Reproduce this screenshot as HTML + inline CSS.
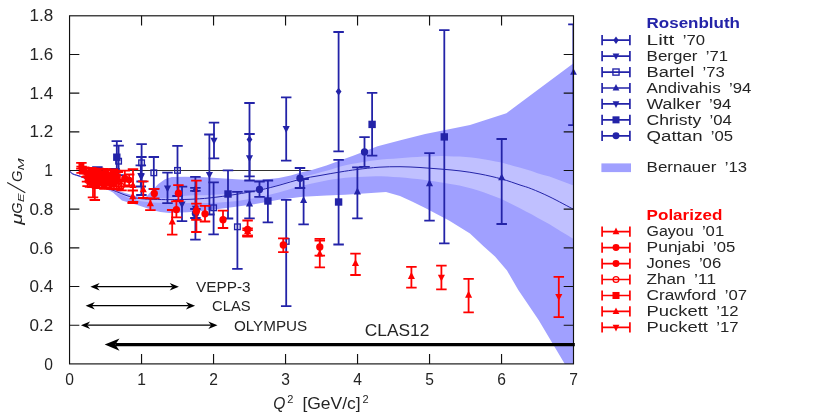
<!DOCTYPE html>
<html><head><meta charset="utf-8"><title>Proton form factor ratio</title>
<style>
html,body{margin:0;padding:0;background:#fff;}
body{width:831px;height:420px;overflow:hidden;font-family:"Liberation Sans",sans-serif;}
svg{display:block;will-change:transform;}
svg text{font-family:"Liberation Sans",sans-serif;}
</style></head><body>
<svg width="831" height="420" viewBox="0 0 831 420" font-family="Liberation Sans, sans-serif">
<defs><clipPath id="cp"><rect x="69.55" y="15.8" width="504.45" height="348.1"/></clipPath></defs>
<line x1="69.55" y1="170.51" x2="573.5" y2="170.51" stroke="#333" stroke-width="1"/>
<g clip-path="url(#cp)">
<polygon points="69.5,170.2 71.5,172.6 74.5,174 79,175.2 85,177.6 95,182 105,186.2 113,188.8 125,193 135,195.8 143,197.4 146.4,196.5 152,190.5 158.3,184 165,179.2 171.7,177.1 185,176.7 200.8,176.9 232,179 247.7,180 265,179.5 278.8,178 290.7,175.5 302.6,172.1 311,170.3 326.4,165.4 340,160.5 353.8,155.5 377.6,146.3 401.4,140 425.2,134 449,129.3 470,125 506.4,113.3 573.5,63.3 573.5,364 564.8,364 538.6,320 518.3,290 507,270.5 495,256.5 483.8,246.5 470,233.5 449,220.5 425.2,208 412,201.5 400,196 386,191.9 360,193.8 345,194.8 326.4,195.4 302.6,196.7 278.8,199.7 254,204.3 232,207.3 200.8,211.3 187.4,212.2 169.5,213 160.4,212 153.9,210.4 146.4,208 135.7,204.4 128.8,202.6 121.9,200.4 113,192.6 105,188.4 95,183.7 85,179.1 79,176.7 74.5,175.3 71.5,173.9 69.5,171" fill="#a0a0ff"/>
<polygon points="69.5,170.3 75.5,174.67 81.5,176.66 87.5,179.17 93.5,181.85 99.5,184.48 105.5,187.09 111.5,189.4 117.5,191.72 123.5,194.1 129.5,196.06 135.5,197.53 141.5,198.43 147.5,198.78 153.5,198.87 159.5,198.6 165.5,198.31 171.5,197.86 177.5,196.88 183.5,195.91 189.5,195.44 195.5,195.37 201.5,195.27 207.5,195.17 213.5,194.84 219.5,194.45 225.5,194.09 231.5,193.73 237.5,193.26 243.5,192.41 249.5,191.41 255.5,190.4 261.5,189.29 267.5,187.86 273.5,186.4 279.5,184.61 285.5,182.63 291.5,180.62 297.5,178.62 303.5,176.77 309.5,175.2 315.5,173.64 321.5,172.08 327.5,170.49 333.5,168.65 339.5,166.81 345.5,165.17 351.5,164.01 357.5,162.88 363.5,161.98 369.5,161.08 375.5,160.18 381.5,159.48 387.5,159.07 393.5,158.65 399.5,158.23 405.5,157.8 411.5,157.37 417.5,156.93 423.5,156.62 429.5,156.39 435.5,156.17 441.5,156.04 447.5,156.21 453.5,156.38 459.5,156.55 465.5,157.05 471.5,157.62 477.5,158.28 483.5,159.21 489.5,160.33 495.5,161.45 501.5,162.57 507.5,164.23 513.5,165.91 519.5,167.59 525.5,169.3 531.5,171.02 537.5,173.14 543.5,174.88 549.5,176.61 555.5,178.8 561.5,181.04 567.5,183.27 573.5,185.5 573.5,239.1 567.5,235.36 561.5,231.63 555.5,227.89 549.5,224.2 543.5,220.96 537.5,217.72 531.5,214.2 525.5,211.14 519.5,208.1 513.5,205.09 507.5,202.08 501.5,199.1 495.5,196.85 489.5,194.6 483.5,192.35 477.5,190.29 471.5,188.5 465.5,186.99 459.5,185.61 453.5,184.56 447.5,183.51 441.5,182.46 435.5,181.56 429.5,180.7 423.5,179.85 417.5,179.08 411.5,178.44 405.5,177.79 399.5,177.18 393.5,176.89 387.5,176.61 381.5,176.33 375.5,176.33 369.5,176.53 363.5,176.73 357.5,176.93 351.5,177.37 345.5,177.83 339.5,178.51 333.5,179.37 327.5,180.23 321.5,181.41 315.5,182.73 309.5,184.07 303.5,185.4 297.5,187.02 291.5,188.78 285.5,190.54 279.5,192.28 273.5,193.82 267.5,195.29 261.5,196.76 255.5,197.9 249.5,198.95 243.5,199.99 237.5,200.9 231.5,201.47 225.5,201.92 219.5,202.38 213.5,202.82 207.5,203.07 201.5,203.08 195.5,203.09 189.5,203.08 183.5,202.98 177.5,203.03 171.5,203.09 165.5,202.93 159.5,202.71 153.5,202.47 147.5,201.93 141.5,201.22 135.5,199.96 129.5,198.13 123.5,195.83 117.5,193.16 111.5,190.55 105.5,187.96 99.5,185.08 93.5,182.4 87.5,179.68 81.5,177.14 75.5,175.11 69.5,170.7" fill="#c0c0ff"/>
<path d="M69.5,170.5C69.83,170.95 70.67,172.52 71.5,173.2C72.33,173.88 73.25,174.15 74.5,174.6C75.75,175.05 77.25,175.28 79,175.9C80.75,176.52 82.33,177.15 85,178.3C87.67,179.45 91.67,181.32 95,182.8C98.33,184.28 101.38,185.72 105,187.2C108.62,188.68 113.37,190.4 116.7,191.7C120.03,193 122.23,194.03 125,195C127.77,195.97 130.47,196.87 133.3,197.5C136.13,198.13 138.57,198.48 142,198.8C145.43,199.12 149.23,199.27 153.9,199.4C158.57,199.53 163.98,199.62 170,199.6C176.02,199.58 183.33,199.58 190,199.3C196.67,199.02 202.5,198.7 210,197.9C217.5,197.1 226.67,195.82 235,194.5C243.33,193.18 252.5,191.58 260,190C267.5,188.42 273.17,186.83 280,185C286.83,183.17 294.33,180.58 301,179C307.67,177.42 313.5,176.67 320,175.5C326.5,174.33 333.83,173 340,172C346.17,171 350.5,170.3 357,169.5C363.5,168.7 371.83,167.67 379,167.2C386.17,166.73 393.17,166.65 400,166.7C406.83,166.75 413.33,167.12 420,167.5C426.67,167.88 433.33,168.43 440,169C446.67,169.57 453.33,170.07 460,170.9C466.67,171.73 473.05,172.65 480,174C486.95,175.35 495.03,177.17 501.7,179C508.37,180.83 515.05,183.37 520,185C524.95,186.63 526.4,186.8 531.4,188.8C536.4,190.8 542.98,193.58 550,197C557.02,200.42 569.58,207.25 573.5,209.3" fill="none" stroke="#2323a8" stroke-width="1"/>
</g>
<g clip-path="url(#cp)">
<path d="M249.5,103V176.4M244.25,103H254.75M244.25,176.4H254.75" stroke="#2323a8" stroke-width="1.8" fill="none"/><polygon points="249.5,135.6 252.4,139.5 249.5,143.4 246.6,139.5" fill="#2323a8"/>
<path d="M338.6,32V151.4M333.35,32H343.85M333.35,151.4H343.85" stroke="#2323a8" stroke-width="1.8" fill="none"/><polygon points="338.6,87.7 341.5,91.6 338.6,95.5 335.7,91.6" fill="#2323a8"/>
<path d="M214,122.6V158.3M208.75,122.6H219.25M208.75,158.3H219.25" stroke="#2323a8" stroke-width="1.8" fill="none"/><polygon points="214,144.7 210.45,137.8 217.55,137.8" fill="#2323a8"/>
<path d="M249.5,134V180.5M244.25,134H254.75M244.25,180.5H254.75" stroke="#2323a8" stroke-width="1.8" fill="none"/><polygon points="249.5,162.1 245.95,155.2 253.05,155.2" fill="#2323a8"/>
<path d="M286.2,97.4V160.7M280.95,97.4H291.45M280.95,160.7H291.45" stroke="#2323a8" stroke-width="1.8" fill="none"/><polygon points="286.2,133 282.65,126.1 289.75,126.1" fill="#2323a8"/>
<path d="M140.8,165.4V186.5M135.55,165.4H146.05M135.55,186.5H146.05" stroke="#2323a8" stroke-width="1.8" fill="none"/><polygon points="140.8,180 137.25,173.1 144.35,173.1" fill="#2323a8"/>
<path d="M167.5,172.6V203.2M162.25,172.6H172.75M162.25,203.2H172.75" stroke="#2323a8" stroke-width="1.8" fill="none"/><polygon points="167.5,192.4 163.95,185.5 171.05,185.5" fill="#2323a8"/>
<path d="M182,186.6V221.2M176.75,186.6H187.25M176.75,221.2H187.25" stroke="#2323a8" stroke-width="1.8" fill="none"/><polygon points="182,208.4 178.45,201.5 185.55,201.5" fill="#2323a8"/>
<path d="M209.4,134.5V214.5M204.15,134.5H214.65M204.15,214.5H214.65" stroke="#2323a8" stroke-width="1.8" fill="none"/><polygon points="209.4,178.8 205.85,171.9 212.95,171.9" fill="#2323a8"/>
<path d="M195.4,176.8V239.6M190.15,176.8H200.65M190.15,239.6H200.65" stroke="#2323a8" stroke-width="1.8" fill="none"/><polygon points="195.4,212.7 191.85,205.8 198.95,205.8" fill="#2323a8"/>
<path d="M118.6,145.6V175.2M113.35,145.6H123.85M113.35,175.2H123.85" stroke="#2323a8" stroke-width="1.8" fill="none"/><rect x="115.8" y="158.4" width="5.6" height="5.6" fill="none" stroke="#2323a8" stroke-width="1.35"/>
<path d="M141.6,144.2V181.5M136.35,144.2H146.85M136.35,181.5H146.85" stroke="#2323a8" stroke-width="1.8" fill="none"/><rect x="138.8" y="160" width="5.6" height="5.6" fill="none" stroke="#2323a8" stroke-width="1.35"/>
<path d="M153.8,157V189M148.55,157H159.05M148.55,189H159.05" stroke="#2323a8" stroke-width="1.8" fill="none"/><rect x="151" y="170" width="5.6" height="5.6" fill="none" stroke="#2323a8" stroke-width="1.35"/>
<path d="M141.4,157V195M136.15,157H146.65M136.15,195H146.65" stroke="#2323a8" stroke-width="1.8" fill="none"/><polygon points="141.4,180.4 137.85,173.5 144.95,173.5" fill="#2323a8"/>
<path d="M177.5,145.8V196M172.25,145.8H182.75M172.25,196H182.75" stroke="#2323a8" stroke-width="1.8" fill="none"/><rect x="174.7" y="167.6" width="5.6" height="5.6" fill="none" stroke="#2323a8" stroke-width="1.35"/>
<path d="M213.6,182.4V234.4M208.35,182.4H218.85M208.35,234.4H218.85" stroke="#2323a8" stroke-width="1.8" fill="none"/><rect x="210.8" y="205" width="5.6" height="5.6" fill="none" stroke="#2323a8" stroke-width="1.35"/>
<path d="M237.4,191.8V268.9M232.15,191.8H242.65M232.15,268.9H242.65" stroke="#2323a8" stroke-width="1.8" fill="none"/><rect x="234.6" y="224" width="5.6" height="5.6" fill="none" stroke="#2323a8" stroke-width="1.35"/>
<path d="M286.2,199.8V306.2M280.95,199.8H291.45M280.95,306.2H291.45" stroke="#2323a8" stroke-width="1.8" fill="none"/><rect x="283.4" y="238.6" width="5.6" height="5.6" fill="none" stroke="#2323a8" stroke-width="1.35"/>
<path d="M195.4,187.8V190.8M190.15,187.8H200.65M190.15,190.8H200.65" stroke="#2323a8" stroke-width="1.8" fill="none"/><polygon points="195.4,185 191.85,191.9 198.95,191.9" fill="#2323a8"/>
<path d="M249.5,191.4V218.4M244.25,191.4H254.75M244.25,218.4H254.75" stroke="#2323a8" stroke-width="1.8" fill="none"/><polygon points="249.5,199.6 245.95,206.5 253.05,206.5" fill="#2323a8"/>
<path d="M303.6,179V224.3M298.35,179H308.85M298.35,224.3H308.85" stroke="#2323a8" stroke-width="1.8" fill="none"/><polygon points="303.6,196.2 300.05,203.1 307.15,203.1" fill="#2323a8"/>
<path d="M357.4,167.4V218.3M352.15,167.4H362.65M352.15,218.3H362.65" stroke="#2323a8" stroke-width="1.8" fill="none"/><polygon points="357.4,187.6 353.85,194.5 360.95,194.5" fill="#2323a8"/>
<path d="M429.5,153.1V220.7M424.25,153.1H434.75M424.25,220.7H434.75" stroke="#2323a8" stroke-width="1.8" fill="none"/><polygon points="429.5,179.4 425.95,186.3 433.05,186.3" fill="#2323a8"/>
<path d="M501.7,139V224M496.45,139H506.95M496.45,224H506.95" stroke="#2323a8" stroke-width="1.8" fill="none"/><polygon points="501.7,173.4 498.15,180.3 505.25,180.3" fill="#2323a8"/>
<path d="M573.4,24.3V125.2M568.15,24.3H578.65M568.15,125.2H578.65" stroke="#2323a8" stroke-width="1.8" fill="none"/>
<path d="M116.8,141.2V171.5M111.55,141.2H122.05M111.55,171.5H122.05" stroke="#2323a8" stroke-width="1.8" fill="none"/><rect x="113.1" y="153.5" width="7.4" height="7.4" fill="#2323a8"/>
<path d="M228,170.4V218.5M222.75,170.4H233.25M222.75,218.5H233.25" stroke="#2323a8" stroke-width="1.8" fill="none"/><rect x="224.3" y="190.3" width="7.4" height="7.4" fill="#2323a8"/>
<path d="M267.9,180.5V222.4M262.65,180.5H273.15M262.65,222.4H273.15" stroke="#2323a8" stroke-width="1.8" fill="none"/><rect x="264.2" y="197.3" width="7.4" height="7.4" fill="#2323a8"/>
<path d="M338.6,159.8V244.5M333.35,159.8H343.85M333.35,244.5H343.85" stroke="#2323a8" stroke-width="1.8" fill="none"/><rect x="334.9" y="198.3" width="7.4" height="7.4" fill="#2323a8"/>
<path d="M372.1,92.9V155.6M366.85,92.9H377.35M366.85,155.6H377.35" stroke="#2323a8" stroke-width="1.8" fill="none"/><rect x="368.4" y="120.7" width="7.4" height="7.4" fill="#2323a8"/>
<path d="M444.3,30.2V243.4M439.05,30.2H449.55M439.05,243.4H449.55" stroke="#2323a8" stroke-width="1.8" fill="none"/><rect x="440.6" y="133.2" width="7.4" height="7.4" fill="#2323a8"/>
<path d="M259.5,181.5V196.8M254.25,181.5H264.75M254.25,196.8H264.75" stroke="#2323a8" stroke-width="1.8" fill="none"/><circle cx="259.5" cy="189.4" r="3.65" fill="#2323a8"/>
<path d="M300,168V188M294.75,168H305.25M294.75,188H305.25" stroke="#2323a8" stroke-width="1.8" fill="none"/><circle cx="300" cy="178.2" r="3.65" fill="#2323a8"/>
<path d="M364.5,137.1V166.8M359.25,137.1H369.75M359.25,166.8H369.75" stroke="#2323a8" stroke-width="1.8" fill="none"/><circle cx="364.5" cy="151.9" r="3.65" fill="#2323a8"/>
<path d="M195.4,209V218M190.15,209H200.65M190.15,218H200.65" stroke="#2323a8" stroke-width="1.8" fill="none"/><circle cx="195.4" cy="213.5" r="3.65" fill="#2323a8"/>
<path d="M97.4,167.2V176M92.15,167.2H102.65M92.15,176H102.65" stroke="#2323a8" stroke-width="1.8" fill="none"/><polygon points="97.4,171.92 97.05,171.23 97.76,171.23" fill="#2323a8"/>
<path d="M114.5,169V175.6M109.25,169H119.75M109.25,175.6H119.75" stroke="#2323a8" stroke-width="1.8" fill="none"/><polygon points="114.5,172.72 114.14,172.03 114.86,172.03" fill="#2323a8"/>
<path d="M81.4,162.8V168.6M76.15,162.8H86.65M76.15,168.6H86.65" stroke="#ff0000" stroke-width="1.8" fill="none"/><rect x="78.44" y="162.64" width="5.92" height="5.92" fill="#ff0000"/>
<path d="M81.6,166.6V172.9M76.35,166.6H86.85M76.35,172.9H86.85" stroke="#ff0000" stroke-width="1.8" fill="none"/><rect x="78.64" y="166.64" width="5.92" height="5.92" fill="#ff0000"/>
<path d="M84.2,167.4V173.6M78.95,167.4H89.45M78.95,173.6H89.45" stroke="#ff0000" stroke-width="1.8" fill="none"/><rect x="81.24" y="167.44" width="5.92" height="5.92" fill="#ff0000"/>
<path d="M86.5,168.09V176.89M81.25,168.09H91.75M81.25,176.89H91.75" stroke="#ff0000" stroke-width="1.8" fill="none"/><rect x="83.54" y="169.53" width="5.92" height="5.92" fill="#ff0000"/>
<path d="M87.6,176.49V186.09M82.35,176.49H92.85M82.35,186.09H92.85" stroke="#ff0000" stroke-width="1.8" fill="none"/><circle cx="87.6" cy="181.29" r="2.08" fill="none" stroke="#ff0000" stroke-width="1.35"/>
<path d="M87,173.27V181.67M81.75,173.27H92.25M81.75,181.67H92.25" stroke="#ff0000" stroke-width="1.8" fill="none"/><circle cx="87" cy="177.47" r="2.92" fill="#ff0000"/>
<path d="M88.9,167.86V176.66M83.65,167.86H94.15M83.65,176.66H94.15" stroke="#ff0000" stroke-width="1.8" fill="none"/><circle cx="88.9" cy="172.26" r="2.08" fill="none" stroke="#ff0000" stroke-width="1.35"/>
<path d="M90,177.35V186.95M84.75,177.35H95.25M84.75,186.95H95.25" stroke="#ff0000" stroke-width="1.8" fill="none"/><rect x="87.04" y="179.19" width="5.92" height="5.92" fill="#ff0000"/>
<path d="M89.4,173.03V181.43M84.15,173.03H94.65M84.15,181.43H94.65" stroke="#ff0000" stroke-width="1.8" fill="none"/><circle cx="89.4" cy="177.23" r="2.08" fill="none" stroke="#ff0000" stroke-width="1.35"/>
<path d="M91.3,168V176.8M86.05,168H96.55M86.05,176.8H96.55" stroke="#ff0000" stroke-width="1.8" fill="none"/><rect x="88.34" y="169.44" width="5.92" height="5.92" fill="#ff0000"/>
<path d="M92.4,177.54V187.14M87.15,177.54H97.65M87.15,187.14H97.65" stroke="#ff0000" stroke-width="1.8" fill="none"/><circle cx="92.4" cy="182.34" r="2.92" fill="#ff0000"/>
<path d="M91.8,172.72V181.12M86.55,172.72H97.05M86.55,181.12H97.05" stroke="#ff0000" stroke-width="1.8" fill="none"/><rect x="88.84" y="173.96" width="5.92" height="5.92" fill="#ff0000"/>
<path d="M93.7,168.77V177.57M88.45,168.77H98.95M88.45,177.57H98.95" stroke="#ff0000" stroke-width="1.8" fill="none"/><circle cx="93.7" cy="173.17" r="2.92" fill="#ff0000"/>
<path d="M94.8,177.08V186.68M89.55,177.08H100.05M89.55,186.68H100.05" stroke="#ff0000" stroke-width="1.8" fill="none"/><circle cx="94.8" cy="181.88" r="2.08" fill="none" stroke="#ff0000" stroke-width="1.35"/>
<path d="M94.2,173.02V181.42M88.95,173.02H99.45M88.95,181.42H99.45" stroke="#ff0000" stroke-width="1.8" fill="none"/><rect x="91.24" y="174.26" width="5.92" height="5.92" fill="#ff0000"/>
<path d="M96.1,168.93V177.73M90.85,168.93H101.35M90.85,177.73H101.35" stroke="#ff0000" stroke-width="1.8" fill="none"/><circle cx="96.1" cy="173.33" r="2.08" fill="none" stroke="#ff0000" stroke-width="1.35"/>
<path d="M97.2,178.53V188.13M91.95,178.53H102.45M91.95,188.13H102.45" stroke="#ff0000" stroke-width="1.8" fill="none"/><rect x="94.24" y="180.37" width="5.92" height="5.92" fill="#ff0000"/>
<path d="M96.6,173.29V181.69M91.35,173.29H101.85M91.35,181.69H101.85" stroke="#ff0000" stroke-width="1.8" fill="none"/><circle cx="96.6" cy="177.49" r="2.08" fill="none" stroke="#ff0000" stroke-width="1.35"/>
<path d="M98.5,168.77V177.57M93.25,168.77H103.75M93.25,177.57H103.75" stroke="#ff0000" stroke-width="1.8" fill="none"/><rect x="95.54" y="170.21" width="5.92" height="5.92" fill="#ff0000"/>
<path d="M99.6,178.45V188.05M94.35,178.45H104.85M94.35,188.05H104.85" stroke="#ff0000" stroke-width="1.8" fill="none"/><rect x="96.64" y="180.29" width="5.92" height="5.92" fill="#ff0000"/>
<path d="M99,174.82V183.22M93.75,174.82H104.25M93.75,183.22H104.25" stroke="#ff0000" stroke-width="1.8" fill="none"/><rect x="96.04" y="176.06" width="5.92" height="5.92" fill="#ff0000"/>
<path d="M100.9,169.51V178.31M95.65,169.51H106.15M95.65,178.31H106.15" stroke="#ff0000" stroke-width="1.8" fill="none"/><rect x="97.94" y="170.95" width="5.92" height="5.92" fill="#ff0000"/>
<path d="M102,178.32V187.92M96.75,178.32H107.25M96.75,187.92H107.25" stroke="#ff0000" stroke-width="1.8" fill="none"/><circle cx="102" cy="183.12" r="2.08" fill="none" stroke="#ff0000" stroke-width="1.35"/>
<path d="M101.4,175.08V183.48M96.15,175.08H106.65M96.15,183.48H106.65" stroke="#ff0000" stroke-width="1.8" fill="none"/><circle cx="101.4" cy="179.28" r="2.92" fill="#ff0000"/>
<path d="M103.3,168.83V177.63M98.05,168.83H108.55M98.05,177.63H108.55" stroke="#ff0000" stroke-width="1.8" fill="none"/><circle cx="103.3" cy="173.23" r="2.08" fill="none" stroke="#ff0000" stroke-width="1.35"/>
<path d="M104.4,179.3V188.9M99.15,179.3H109.65M99.15,188.9H109.65" stroke="#ff0000" stroke-width="1.8" fill="none"/><rect x="101.44" y="181.14" width="5.92" height="5.92" fill="#ff0000"/>
<path d="M103.8,174.2V182.6M98.55,174.2H109.05M98.55,182.6H109.05" stroke="#ff0000" stroke-width="1.8" fill="none"/><circle cx="103.8" cy="178.4" r="2.08" fill="none" stroke="#ff0000" stroke-width="1.35"/>
<path d="M105.7,169.15V177.95M100.45,169.15H110.95M100.45,177.95H110.95" stroke="#ff0000" stroke-width="1.8" fill="none"/><rect x="102.74" y="170.59" width="5.92" height="5.92" fill="#ff0000"/>
<path d="M106.8,178.36V187.96M101.55,178.36H112.05M101.55,187.96H112.05" stroke="#ff0000" stroke-width="1.8" fill="none"/><circle cx="106.8" cy="183.16" r="2.92" fill="#ff0000"/>
<path d="M106.2,174.45V182.85M100.95,174.45H111.45M100.95,182.85H111.45" stroke="#ff0000" stroke-width="1.8" fill="none"/><rect x="103.24" y="175.69" width="5.92" height="5.92" fill="#ff0000"/>
<path d="M108.1,170.39V179.19M102.85,170.39H113.35M102.85,179.19H113.35" stroke="#ff0000" stroke-width="1.8" fill="none"/><circle cx="108.1" cy="174.79" r="2.92" fill="#ff0000"/>
<path d="M109.2,178.7V188.3M103.95,178.7H114.45M103.95,188.3H114.45" stroke="#ff0000" stroke-width="1.8" fill="none"/><circle cx="109.2" cy="183.5" r="2.08" fill="none" stroke="#ff0000" stroke-width="1.35"/>
<path d="M108.6,175.1V183.5M103.35,175.1H113.85M103.35,183.5H113.85" stroke="#ff0000" stroke-width="1.8" fill="none"/><rect x="105.64" y="176.34" width="5.92" height="5.92" fill="#ff0000"/>
<path d="M110.5,170.28V179.08M105.25,170.28H115.75M105.25,179.08H115.75" stroke="#ff0000" stroke-width="1.8" fill="none"/><circle cx="110.5" cy="174.68" r="2.08" fill="none" stroke="#ff0000" stroke-width="1.35"/>
<path d="M111.6,179.25V188.85M106.35,179.25H116.85M106.35,188.85H116.85" stroke="#ff0000" stroke-width="1.8" fill="none"/><rect x="108.64" y="181.09" width="5.92" height="5.92" fill="#ff0000"/>
<path d="M111,175.26V183.66M105.75,175.26H116.25M105.75,183.66H116.25" stroke="#ff0000" stroke-width="1.8" fill="none"/><circle cx="111" cy="179.46" r="2.08" fill="none" stroke="#ff0000" stroke-width="1.35"/>
<path d="M112.9,169.52V178.32M107.65,169.52H118.15M107.65,178.32H118.15" stroke="#ff0000" stroke-width="1.8" fill="none"/><rect x="109.94" y="170.96" width="5.92" height="5.92" fill="#ff0000"/>
<path d="M114,178.99V188.59M108.75,178.99H119.25M108.75,188.59H119.25" stroke="#ff0000" stroke-width="1.8" fill="none"/><rect x="111.04" y="180.83" width="5.92" height="5.92" fill="#ff0000"/>
<path d="M113.4,174.93V183.33M108.15,174.93H118.65M108.15,183.33H118.65" stroke="#ff0000" stroke-width="1.8" fill="none"/><rect x="110.44" y="176.17" width="5.92" height="5.92" fill="#ff0000"/>
<path d="M115.3,170.68V179.48M110.05,170.68H120.55M110.05,179.48H120.55" stroke="#ff0000" stroke-width="1.8" fill="none"/><rect x="112.34" y="172.12" width="5.92" height="5.92" fill="#ff0000"/>
<path d="M116.4,179.81V189.41M111.15,179.81H121.65M111.15,189.41H121.65" stroke="#ff0000" stroke-width="1.8" fill="none"/><circle cx="116.4" cy="184.61" r="2.08" fill="none" stroke="#ff0000" stroke-width="1.35"/>
<path d="M115.8,175.32V183.72M110.55,175.32H121.05M110.55,183.72H121.05" stroke="#ff0000" stroke-width="1.8" fill="none"/><circle cx="115.8" cy="179.52" r="2.92" fill="#ff0000"/>
<path d="M93,170V197.3M87.75,170H98.25M87.75,197.3H98.25" stroke="#ff0000" stroke-width="1.8" fill="none"/><polygon points="93,180.22 89.81,186.43 96.19,186.43" fill="#ff0000"/>
<path d="M94.8,171V200M89.55,171H100.05M89.55,200H100.05" stroke="#ff0000" stroke-width="1.8" fill="none"/><polygon points="94.8,182.22 91.61,188.43 97.99,188.43" fill="#ff0000"/>
<path d="M118.5,180V189M113.25,180H123.75M113.25,189H123.75" stroke="#ff0000" stroke-width="1.8" fill="none"/><circle cx="118.5" cy="184.5" r="2.6" fill="none" stroke="#ff0000" stroke-width="1.35"/>
<path d="M117.8,172V181M112.55,172H123.05M112.55,181H123.05" stroke="#ff0000" stroke-width="1.8" fill="none"/><rect x="114.84" y="173.54" width="5.92" height="5.92" fill="#ff0000"/>
<path d="M121.5,181.5V190.4M116.25,181.5H126.75M116.25,190.4H126.75" stroke="#ff0000" stroke-width="1.8" fill="none"/><circle cx="121.5" cy="186" r="2.6" fill="none" stroke="#ff0000" stroke-width="1.35"/>
<path d="M124.8,170.6V186.5M119.55,170.6H130.05M119.55,186.5H130.05" stroke="#ff0000" stroke-width="1.8" fill="none"/><circle cx="124.8" cy="178.5" r="3.65" fill="#ff0000"/>
<path d="M129.2,174.5V185.5M123.95,174.5H134.45M123.95,185.5H134.45" stroke="#ff0000" stroke-width="1.8" fill="none"/><circle cx="129.2" cy="180" r="3.29" fill="#ff0000"/>
<path d="M133,169.2V201.8M127.75,169.2H138.25M127.75,201.8H138.25" stroke="#ff0000" stroke-width="1.8" fill="none"/><polygon points="133,181.2 129.45,188.1 136.55,188.1" fill="#ff0000"/>
<path d="M132.7,190.5V203M127.45,190.5H137.95M127.45,203H137.95" stroke="#ff0000" stroke-width="1.8" fill="none"/><polygon points="132.7,192.4 129.15,199.3 136.25,199.3" fill="#ff0000"/>
<path d="M143.3,181.4V198M138.05,181.4H148.55M138.05,198H148.55" stroke="#ff0000" stroke-width="1.8" fill="none"/><polygon points="143.3,185.4 139.75,192.3 146.85,192.3" fill="#ff0000"/>
<path d="M150.4,198.3V210.2M145.15,198.3H155.65M145.15,210.2H155.65" stroke="#ff0000" stroke-width="1.8" fill="none"/><polygon points="150.4,199.4 146.85,206.3 153.95,206.3" fill="#ff0000"/>
<path d="M154.3,188.8V198.4M149.05,188.8H159.55M149.05,198.4H159.55" stroke="#ff0000" stroke-width="1.8" fill="none"/><circle cx="154.3" cy="193.4" r="3.65" fill="#ff0000"/>
<path d="M178.4,185.2V201M173.15,185.2H183.65M173.15,201H183.65" stroke="#ff0000" stroke-width="1.8" fill="none"/><circle cx="178.4" cy="193.2" r="3.65" fill="#ff0000"/>
<path d="M176.4,201.4V217.3M171.15,201.4H181.65M171.15,217.3H181.65" stroke="#ff0000" stroke-width="1.8" fill="none"/><circle cx="176.4" cy="209.6" r="3.65" fill="#ff0000"/>
<path d="M172.2,210V234.6M166.95,210H177.45M166.95,234.6H177.45" stroke="#ff0000" stroke-width="1.8" fill="none"/><polygon points="172.2,217.5 168.65,224.4 175.75,224.4" fill="#ff0000"/>
<path d="M196.4,180.6V232M191.15,180.6H201.65M191.15,232H201.65" stroke="#ff0000" stroke-width="1.8" fill="none"/><polygon points="196.4,203.3 192.85,210.2 199.95,210.2" fill="#ff0000"/>
<path d="M196.4,203.6V219.8M191.15,203.6H201.65M191.15,219.8H201.65" stroke="#ff0000" stroke-width="1.8" fill="none"/><circle cx="196.4" cy="211.2" r="3.65" fill="#ff0000"/>
<path d="M205,205.9V221.5M199.75,205.9H210.25M199.75,221.5H210.25" stroke="#ff0000" stroke-width="1.8" fill="none"/><circle cx="205" cy="213.8" r="3.65" fill="#ff0000"/>
<path d="M223,210.7V228M217.75,210.7H228.25M217.75,228H228.25" stroke="#ff0000" stroke-width="1.8" fill="none"/><circle cx="223" cy="219.7" r="3.65" fill="#ff0000"/>
<path d="M247.6,220.5V236M242.35,220.5H252.85M242.35,236H252.85" stroke="#ff0000" stroke-width="1.8" fill="none"/><circle cx="247.6" cy="229.4" r="3.65" fill="#ff0000"/>
<path d="M247.6,228.3V235.3M242.35,228.3H252.85M242.35,235.3H252.85" stroke="#ff0000" stroke-width="1.8" fill="none"/><polygon points="247.6,227 244.05,233.9 251.15,233.9" fill="#ff0000"/>
<path d="M247.6,230.2V236.6M242.35,230.2H252.85M242.35,236.6H252.85" stroke="#ff0000" stroke-width="1.8" fill="none"/><polygon points="247.6,236 244.05,229.1 251.15,229.1" fill="#ff0000"/>
<path d="M283.3,238.3V252.1M278.05,238.3H288.55M278.05,252.1H288.55" stroke="#ff0000" stroke-width="1.8" fill="none"/><circle cx="283.3" cy="245" r="3.65" fill="#ff0000"/>
<path d="M319.8,240.7V267.4M314.55,240.7H325.05M314.55,267.4H325.05" stroke="#ff0000" stroke-width="1.8" fill="none"/><polygon points="319.8,249.6 316.25,256.5 323.35,256.5" fill="#ff0000"/>
<path d="M319.8,238.8V255.6M314.55,238.8H325.05M314.55,255.6H325.05" stroke="#ff0000" stroke-width="1.8" fill="none"/><circle cx="319.8" cy="247" r="3.65" fill="#ff0000"/>
<path d="M355.5,253.6V275M350.25,253.6H360.75M350.25,275H360.75" stroke="#ff0000" stroke-width="1.8" fill="none"/><polygon points="355.5,259.2 351.95,266.1 359.05,266.1" fill="#ff0000"/>
<path d="M411.4,266.9V287.6M406.15,266.9H416.65M406.15,287.6H416.65" stroke="#ff0000" stroke-width="1.8" fill="none"/><polygon points="411.4,272.1 407.85,279 414.95,279" fill="#ff0000"/>
<path d="M441.4,265.7V289.3M436.15,265.7H446.65M436.15,289.3H446.65" stroke="#ff0000" stroke-width="1.8" fill="none"/><polygon points="441.4,281.6 437.85,274.7 444.95,274.7" fill="#ff0000"/>
<path d="M468.6,278.8V312.4M463.35,278.8H473.85M463.35,312.4H473.85" stroke="#ff0000" stroke-width="1.8" fill="none"/><polygon points="468.6,290.8 465.05,297.7 472.15,297.7" fill="#ff0000"/>
<path d="M558.8,276.8V317.1M553.55,276.8H564.05M553.55,317.1H564.05" stroke="#ff0000" stroke-width="1.8" fill="none"/><polygon points="558.8,300.8 555.25,293.9 562.35,293.9" fill="#ff0000"/>
</g>
<polygon points="573.5,68.31 570.13,74.86 576.87,74.86" fill="#2323a8"/>
<rect x="69.55" y="15.8" width="503.95" height="348.1" fill="none" stroke="#111" stroke-width="1.15"/>
<path d="M69.55,325.22h9.8M573.5,325.22h-9.8M69.55,286.54h9.8M573.5,286.54h-9.8M69.55,247.87h9.8M573.5,247.87h-9.8M69.55,209.19h9.8M573.5,209.19h-9.8M69.55,170.51h9.8M573.5,170.51h-9.8M69.55,131.83h9.8M573.5,131.83h-9.8M69.55,93.16h9.8M573.5,93.16h-9.8M69.55,54.48h9.8M573.5,54.48h-9.8M141.55,363.9v-9.8M141.55,15.8v9.8M213.55,363.9v-9.8M213.55,15.8v9.8M285.55,363.9v-9.8M285.55,15.8v9.8M357.55,363.9v-9.8M357.55,15.8v9.8M429.55,363.9v-9.8M429.55,15.8v9.8M501.55,363.9v-9.8M501.55,15.8v9.8" stroke="#111" stroke-width="1.15" fill="none"/>
<line x1="96.8" y1="286.7" x2="172.5" y2="286.7" stroke="#000" stroke-width="1.3"/><polygon points="90.4,286.7 99.6,283 96.8,286.7 99.6,290.4" fill="#000"/><polygon points="178.9,286.7 169.7,283 172.5,286.7 169.7,290.4" fill="#000"/>
<line x1="92" y1="305.7" x2="188.7" y2="305.7" stroke="#000" stroke-width="1.3"/><polygon points="85.6,305.7 94.8,302 92,305.7 94.8,309.4" fill="#000"/><polygon points="195.1,305.7 185.9,302 188.7,305.7 185.9,309.4" fill="#000"/>
<line x1="87.3" y1="325.2" x2="211.1" y2="325.2" stroke="#000" stroke-width="1.3"/><polygon points="80.9,325.2 90.1,321.5 87.3,325.2 90.1,328.9" fill="#000"/><polygon points="217.5,325.2 208.3,321.5 211.1,325.2 208.3,328.9" fill="#000"/>
<line x1="115.3" y1="344.6" x2="574.8" y2="344.6" stroke="#000" stroke-width="3.2"/><polygon points="104.7,344.6 119.5,338.4 115.3,344.6 119.5,350.8" fill="#000"/>
<text x="53" y="369.55" font-size="15.6" fill="#242424" font-weight="normal" font-style="normal" text-anchor="end">0</text>
<text x="29.6" y="330.87" font-size="15.6" fill="#242424" font-weight="normal" font-style="normal" textLength="23.7" lengthAdjust="spacingAndGlyphs">0.2</text>
<text x="29.6" y="292.19" font-size="15.6" fill="#242424" font-weight="normal" font-style="normal" textLength="23.7" lengthAdjust="spacingAndGlyphs">0.4</text>
<text x="29.6" y="253.52" font-size="15.6" fill="#242424" font-weight="normal" font-style="normal" textLength="23.7" lengthAdjust="spacingAndGlyphs">0.6</text>
<text x="29.6" y="214.84" font-size="15.6" fill="#242424" font-weight="normal" font-style="normal" textLength="23.7" lengthAdjust="spacingAndGlyphs">0.8</text>
<text x="53" y="176.16" font-size="15.6" fill="#242424" font-weight="normal" font-style="normal" text-anchor="end">1</text>
<text x="29.6" y="137.48" font-size="15.6" fill="#242424" font-weight="normal" font-style="normal" textLength="23.7" lengthAdjust="spacingAndGlyphs">1.2</text>
<text x="29.6" y="98.81" font-size="15.6" fill="#242424" font-weight="normal" font-style="normal" textLength="23.7" lengthAdjust="spacingAndGlyphs">1.4</text>
<text x="29.6" y="60.13" font-size="15.6" fill="#242424" font-weight="normal" font-style="normal" textLength="23.7" lengthAdjust="spacingAndGlyphs">1.6</text>
<text x="29.6" y="21.45" font-size="15.6" fill="#242424" font-weight="normal" font-style="normal" textLength="23.7" lengthAdjust="spacingAndGlyphs">1.8</text>
<text x="69.55" y="385.1" font-size="15.6" fill="#242424" font-weight="normal" font-style="normal" text-anchor="middle">0</text>
<text x="141.55" y="385.1" font-size="15.6" fill="#242424" font-weight="normal" font-style="normal" text-anchor="middle">1</text>
<text x="213.55" y="385.1" font-size="15.6" fill="#242424" font-weight="normal" font-style="normal" text-anchor="middle">2</text>
<text x="285.55" y="385.1" font-size="15.6" fill="#242424" font-weight="normal" font-style="normal" text-anchor="middle">3</text>
<text x="357.55" y="385.1" font-size="15.6" fill="#242424" font-weight="normal" font-style="normal" text-anchor="middle">4</text>
<text x="429.55" y="385.1" font-size="15.6" fill="#242424" font-weight="normal" font-style="normal" text-anchor="middle">5</text>
<text x="501.55" y="385.1" font-size="15.6" fill="#242424" font-weight="normal" font-style="normal" text-anchor="middle">6</text>
<text x="573.55" y="385.1" font-size="15.6" fill="#242424" font-weight="normal" font-style="normal" text-anchor="middle">7</text>
<text x="273.2" y="409.2" font-size="15.6" fill="#242424" font-weight="normal" font-style="italic">Q</text>
<text x="287.3" y="402.5" font-size="11" fill="#242424" font-weight="normal" font-style="normal">2</text>
<text x="302.4" y="409.2" font-size="15.6" fill="#242424" font-weight="normal" font-style="normal" textLength="58.3" lengthAdjust="spacingAndGlyphs">[GeV/c]</text>
<text x="362.4" y="402.5" font-size="11" fill="#242424" font-weight="normal" font-style="normal">2</text>
<g transform="translate(22.1,224.6) rotate(-90)" font-style="italic" fill="#242424">
<text x="-0.2" y="0" font-size="14.2" textLength="11.4" lengthAdjust="spacingAndGlyphs">μ</text>
<text x="10.9" y="0" font-size="14.2" textLength="11.3" lengthAdjust="spacingAndGlyphs">G</text>
<text x="22.3" y="2.3" font-size="8.2" textLength="8.8" lengthAdjust="spacingAndGlyphs">E</text>
<path d="M31.9,3.2L42.0,-14.9" stroke="#242424" stroke-width="1.1" fill="none"/>
<text x="42.7" y="0" font-size="14.2" textLength="11.4" lengthAdjust="spacingAndGlyphs">G</text>
<text x="54.2" y="2.3" font-size="8.2" textLength="12.2" lengthAdjust="spacingAndGlyphs">M</text>
</g>
<text x="196" y="292.2" font-size="14.1" fill="#242424" font-weight="normal" font-style="normal" textLength="54.6" lengthAdjust="spacingAndGlyphs">VEPP-3</text>
<text x="212" y="311.3" font-size="14.1" fill="#242424" font-weight="normal" font-style="normal" textLength="38.6" lengthAdjust="spacingAndGlyphs">CLAS</text>
<text x="233.9" y="330.5" font-size="14.1" fill="#242424" font-weight="normal" font-style="normal" textLength="73.4" lengthAdjust="spacingAndGlyphs">OLYMPUS</text>
<text x="364.8" y="336.4" font-size="16.4" fill="#242424" font-weight="normal" font-style="normal" textLength="64.6" lengthAdjust="spacingAndGlyphs">CLAS12</text>
<text x="646.6" y="28.4" font-size="15.4" fill="#2323a8" font-weight="bold" textLength="93.4" lengthAdjust="spacingAndGlyphs">Rosenbluth</text>
<path d="M601.3,40.2H630.7M602.1,35.1v10.2M629.9,35.1v10.2" stroke="#2323a8" stroke-width="1.7" fill="none"/>
<polygon points="616,36.5 618.75,40.2 616,43.91 613.25,40.2" fill="#2323a8"/>
<text x="646.6" y="45.1" font-size="15.4" fill="#242424" font-weight="normal" textLength="27.8" lengthAdjust="spacingAndGlyphs">Litt</text>
<text x="682.7" y="45.1" font-size="15.4" fill="#242424" font-weight="normal" textLength="22.3" lengthAdjust="spacingAndGlyphs">’70</text>
<path d="M601.3,56.13H630.7M602.1,51.03v10.2M629.9,51.03v10.2" stroke="#2323a8" stroke-width="1.7" fill="none"/>
<polygon points="616,60.12 612.63,53.57 619.37,53.57" fill="#2323a8"/>
<text x="646.6" y="61.03" font-size="15.4" fill="#242424" font-weight="normal" textLength="50.9" lengthAdjust="spacingAndGlyphs">Berger</text>
<text x="705.8" y="61.03" font-size="15.4" fill="#242424" font-weight="normal" textLength="22.3" lengthAdjust="spacingAndGlyphs">’71</text>
<path d="M601.3,72.06H630.7M602.1,66.96v10.2M629.9,66.96v10.2" stroke="#2323a8" stroke-width="1.7" fill="none"/>
<rect x="612.92" y="68.98" width="6.16" height="6.16" fill="none" stroke="#2323a8" stroke-width="1.35"/>
<text x="646.6" y="76.96" font-size="15.4" fill="#242424" font-weight="normal" textLength="47.7" lengthAdjust="spacingAndGlyphs">Bartel</text>
<text x="702.6" y="76.96" font-size="15.4" fill="#242424" font-weight="normal" textLength="22.3" lengthAdjust="spacingAndGlyphs">’73</text>
<path d="M601.3,87.99H630.7M602.1,82.89v10.2M629.9,82.89v10.2" stroke="#2323a8" stroke-width="1.7" fill="none"/>
<polygon points="616,84 612.63,90.55 619.37,90.55" fill="#2323a8"/>
<text x="646.6" y="92.89" font-size="15.4" fill="#242424" font-weight="normal" textLength="74.1" lengthAdjust="spacingAndGlyphs">Andivahis</text>
<text x="729" y="92.89" font-size="15.4" fill="#242424" font-weight="normal" textLength="22.3" lengthAdjust="spacingAndGlyphs">’94</text>
<path d="M601.3,103.92H630.7M602.1,98.82v10.2M629.9,98.82v10.2" stroke="#2323a8" stroke-width="1.7" fill="none"/>
<polygon points="616,107.91 612.63,101.35 619.37,101.35" fill="#2323a8"/>
<text x="646.6" y="108.82" font-size="15.4" fill="#242424" font-weight="normal" textLength="54.2" lengthAdjust="spacingAndGlyphs">Walker</text>
<text x="709.1" y="108.82" font-size="15.4" fill="#242424" font-weight="normal" textLength="22.3" lengthAdjust="spacingAndGlyphs">’94</text>
<path d="M601.3,119.85H630.7M602.1,114.75v10.2M629.9,114.75v10.2" stroke="#2323a8" stroke-width="1.7" fill="none"/>
<rect x="612.49" y="116.33" width="7.03" height="7.03" fill="#2323a8"/>
<text x="646.6" y="124.75" font-size="15.4" fill="#242424" font-weight="normal" textLength="54.6" lengthAdjust="spacingAndGlyphs">Christy</text>
<text x="709.5" y="124.75" font-size="15.4" fill="#242424" font-weight="normal" textLength="22.3" lengthAdjust="spacingAndGlyphs">’04</text>
<path d="M601.3,135.78H630.7M602.1,130.68v10.2M629.9,130.68v10.2" stroke="#2323a8" stroke-width="1.7" fill="none"/>
<circle cx="616" cy="135.78" r="3.47" fill="#2323a8"/>
<text x="646.6" y="140.68" font-size="15.4" fill="#242424" font-weight="normal" textLength="55.9" lengthAdjust="spacingAndGlyphs">Qattan</text>
<text x="710.8" y="140.68" font-size="15.4" fill="#242424" font-weight="normal" textLength="22.3" lengthAdjust="spacingAndGlyphs">’05</text>
<rect x="601.4" y="163.4" width="29.6" height="8.7" fill="#a0a0ff"/>
<text x="646.6" y="172.1" font-size="15.4" fill="#242424" font-weight="normal" textLength="69.8" lengthAdjust="spacingAndGlyphs">Bernauer</text>
<text x="724.7" y="172.1" font-size="15.4" fill="#242424" font-weight="normal" textLength="22.3" lengthAdjust="spacingAndGlyphs">’13</text>
<text x="646.6" y="219.9" font-size="15.4" fill="#ff0000" font-weight="bold" textLength="75.8" lengthAdjust="spacingAndGlyphs">Polarized</text>
<path d="M601.3,231.6H630.7M602.1,226.5v10.2M629.9,226.5v10.2" stroke="#ff0000" stroke-width="1.7" fill="none"/>
<polygon points="616,227.61 612.63,234.17 619.37,234.17" fill="#ff0000"/>
<text x="646.6" y="236.3" font-size="15.4" fill="#242424" font-weight="normal" textLength="47" lengthAdjust="spacingAndGlyphs">Gayou</text>
<text x="701.9" y="236.3" font-size="15.4" fill="#242424" font-weight="normal" textLength="22.3" lengthAdjust="spacingAndGlyphs">’01</text>
<path d="M601.3,247.57H630.7M602.1,242.47v10.2M629.9,242.47v10.2" stroke="#ff0000" stroke-width="1.7" fill="none"/>
<circle cx="616" cy="247.57" r="3.47" fill="#ff0000"/>
<text x="646.6" y="252.27" font-size="15.4" fill="#242424" font-weight="normal" textLength="58.1" lengthAdjust="spacingAndGlyphs">Punjabi</text>
<text x="713" y="252.27" font-size="15.4" fill="#242424" font-weight="normal" textLength="22.3" lengthAdjust="spacingAndGlyphs">’05</text>
<path d="M601.3,263.54H630.7M602.1,258.44v10.2M629.9,258.44v10.2" stroke="#ff0000" stroke-width="1.7" fill="none"/>
<circle cx="616" cy="263.54" r="3.47" fill="#ff0000"/>
<text x="646.6" y="268.24" font-size="15.4" fill="#242424" font-weight="normal" textLength="44" lengthAdjust="spacingAndGlyphs">Jones</text>
<text x="698.9" y="268.24" font-size="15.4" fill="#242424" font-weight="normal" textLength="22.3" lengthAdjust="spacingAndGlyphs">’06</text>
<path d="M601.3,279.51H630.7M602.1,274.41v10.2M629.9,274.41v10.2" stroke="#ff0000" stroke-width="1.7" fill="none"/>
<circle cx="616" cy="279.51" r="2.86" fill="none" stroke="#ff0000" stroke-width="1.35"/>
<text x="646.6" y="284.21" font-size="15.4" fill="#242424" font-weight="normal" textLength="39" lengthAdjust="spacingAndGlyphs">Zhan</text>
<text x="693.9" y="284.21" font-size="15.4" fill="#242424" font-weight="normal" textLength="22.3" lengthAdjust="spacingAndGlyphs">’11</text>
<path d="M601.3,295.48H630.7M602.1,290.38v10.2M629.9,290.38v10.2" stroke="#ff0000" stroke-width="1.7" fill="none"/>
<rect x="612.49" y="291.97" width="7.03" height="7.03" fill="#ff0000"/>
<text x="646.6" y="300.18" font-size="15.4" fill="#242424" font-weight="normal" textLength="69.8" lengthAdjust="spacingAndGlyphs">Crawford</text>
<text x="724.7" y="300.18" font-size="15.4" fill="#242424" font-weight="normal" textLength="22.3" lengthAdjust="spacingAndGlyphs">’07</text>
<path d="M601.3,311.45H630.7M602.1,306.35v10.2M629.9,306.35v10.2" stroke="#ff0000" stroke-width="1.7" fill="none"/>
<polygon points="616,307.46 612.63,314.02 619.37,314.02" fill="#ff0000"/>
<text x="646.6" y="316.15" font-size="15.4" fill="#242424" font-weight="normal" textLength="61.3" lengthAdjust="spacingAndGlyphs">Puckett</text>
<text x="716.2" y="316.15" font-size="15.4" fill="#242424" font-weight="normal" textLength="22.3" lengthAdjust="spacingAndGlyphs">’12</text>
<path d="M601.3,327.42H630.7M602.1,322.32v10.2M629.9,322.32v10.2" stroke="#ff0000" stroke-width="1.7" fill="none"/>
<polygon points="616,331.41 612.63,324.86 619.37,324.86" fill="#ff0000"/>
<text x="646.6" y="332.12" font-size="15.4" fill="#242424" font-weight="normal" textLength="61.3" lengthAdjust="spacingAndGlyphs">Puckett</text>
<text x="716.2" y="332.12" font-size="15.4" fill="#242424" font-weight="normal" textLength="22.3" lengthAdjust="spacingAndGlyphs">’17</text>
</svg>
</body></html>
